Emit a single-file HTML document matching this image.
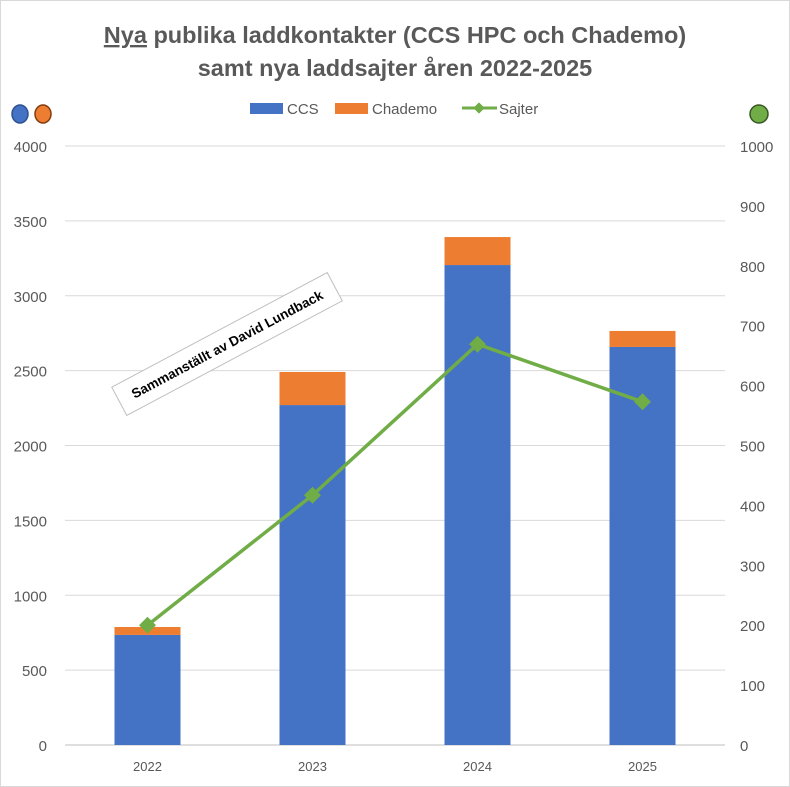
<!DOCTYPE html>
<html><head><meta charset="utf-8"><style>
body{margin:0;background:#fff;font-family:"Liberation Sans",sans-serif}
#wrap{position:relative;width:790px;height:787px;overflow:hidden;background:#fff}
</style></head><body>
<div id="wrap">
<svg id="chart" width="790" height="787" style="position:absolute;left:0;top:0">
<rect x="0.5" y="0.5" width="789" height="786" fill="#fff" stroke="#d9d9d9"/>
<text x="395" y="43" text-anchor="middle" font-size="23.5" font-weight="bold" fill="#595959"><tspan text-decoration="underline">Nya</tspan> publika laddkontakter (CCS HPC och Chademo)</text>
<text x="395" y="76" text-anchor="middle" font-size="23.5" font-weight="bold" fill="#595959">samt nya laddsajter åren 2022-2025</text>
<ellipse cx="20" cy="114" rx="8" ry="9" fill="#4472c4" stroke="#2f528f" stroke-width="1.5"/>
<ellipse cx="43" cy="114" rx="8" ry="9" fill="#ed7d31" stroke="#843c0c" stroke-width="1.5"/>
<ellipse cx="759" cy="114" rx="9" ry="9" fill="#70ad47" stroke="#375623" stroke-width="1.5"/>
<g>
<rect x="250" y="103" width="33" height="11" fill="#4472c4"/>
<text x="287" y="114" font-size="15" fill="#595959">CCS</text>
<rect x="335" y="103" width="33" height="11" fill="#ed7d31"/>
<text x="372" y="114" font-size="15" fill="#595959">Chademo</text>
<line x1="462" y1="108" x2="497" y2="108" stroke="#70ad47" stroke-width="3"/>
<rect x="475" y="104" width="8" height="8" fill="#70ad47" transform="rotate(45 479 108)"/>
<text x="499" y="114" font-size="15" fill="#595959">Sajter</text>
</g>
<g id="grid"></g><g id="bars"></g><g id="line"></g><g id="axes"></g>
<g transform="translate(227,344) rotate(-28)">
<rect x="-122" y="-16" width="244" height="32" fill="#fff" stroke="#bfbfbf"/>
<text x="0" y="5" text-anchor="middle" font-size="13.5" font-weight="bold" fill="#000">Sammanställt av David Lundback</text>
</g>
</svg>
</div>
<script>
const categories=["2022","2023","2024","2025"];
const ccsValues=[735,2270,3205,2658];
const chademoValues=[53,221,187,107];
const sajterValues=[200,417,669,573];
const leftTicks=[0,500,1000,1500,2000,2500,3000,3500,4000];
const rightTicks=[0,100,200,300,400,500,600,700,800,900,1000];
const NS="http://www.w3.org/2000/svg";
const X0=65,X1=725,Y0=745,Y1=146;
const yL=v=>Y0-(v/4000)*(Y0-Y1);
const yR=v=>Y0-(v/1000)*(Y0-Y1);
const band=(X1-X0)/categories.length;
const xC=i=>X0+band*(i+0.5);
function mk(tag,attrs,parent,txt){const e=document.createElementNS(NS,tag);for(const k in attrs)e.setAttribute(k,attrs[k]);if(txt!==undefined)e.textContent=txt;document.getElementById(parent).appendChild(e);return e;}
leftTicks.forEach(t=>{
 const g=mk('line',{x1:X0,x2:X1,y1:yL(t),y2:yL(t),stroke:t===0?'#bfbfbf':'#d9d9d9','stroke-width':1},'grid');
 
 
 const l=mk('text',{x:47,y:yL(t)+6,'text-anchor':'end','font-size':15,fill:'#595959'},'axes',String(t));
 
 
});
rightTicks.forEach(t=>{
 const l=mk('text',{x:740,y:yR(t)+6,'font-size':15,fill:'#595959'},'axes',String(t));
 
 
});
const bw=66;
categories.forEach((c,i)=>{
 const x=xC(i)-bw/2;
 const b=mk('rect',{x:x,y:yL(ccsValues[i]),width:bw,height:Y0-yL(ccsValues[i]),fill:'#4472c4'},'bars');
 
 
 const tot=ccsValues[i]+chademoValues[i];
 const o=mk('rect',{x:x,y:yL(tot),width:bw,height:yL(ccsValues[i])-yL(tot),fill:'#ed7d31'},'bars');
 
 
 const l=mk('text',{x:xC(i),y:771,'text-anchor':'middle','font-size':13,fill:'#595959'},'axes',c);
 
 
});
const pts=sajterValues.map((v,i)=>xC(i)+','+yR(v)).join(' ');
const pl=mk('polyline',{points:pts,fill:'none',stroke:'#70ad47','stroke-width':3.5},'line');


sajterValues.forEach((v,i)=>{
 const m=mk('rect',{x:xC(i)-6,y:yR(v)-6,width:12,height:12,fill:'#70ad47',transform:`rotate(45 ${xC(i)} ${yR(v)})`},'line');
 
 
});
</script>
</body></html>
